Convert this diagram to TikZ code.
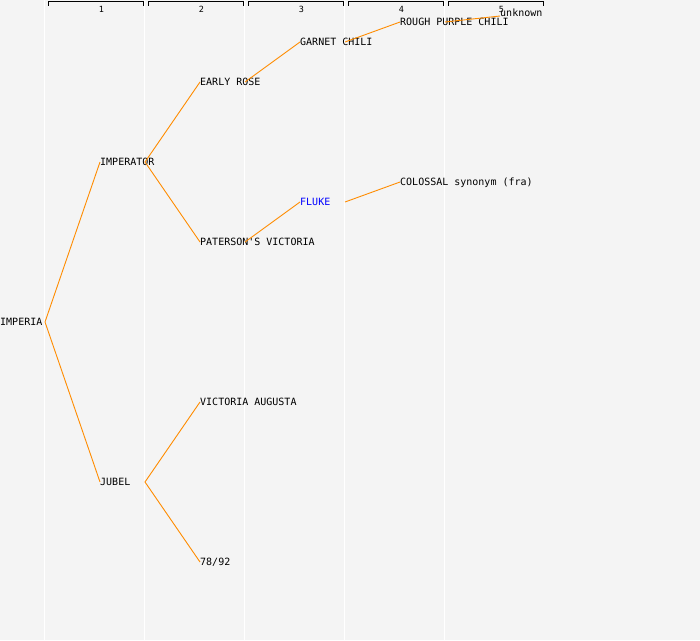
\documentclass[tikz,border=0pt]{standalone}
\usepackage{fontspec}
\setmonofont{DejaVu Sans Mono}
\usetikzlibrary{positioning}
\definecolor{pagegray}{RGB}{244,244,244}
\definecolor{branch}{RGB}{255,140,0}
\definecolor{flukeblue}{RGB}{0,0,255}
\tikzset{cultivar/.style = {anchor=west, inner sep=0pt, text height=6.5pt, text depth=0pt,
                            font=\ttfamily\fontsize{10}{10}\selectfont},
         link/.style = {branch, line width=0.9pt},
         colnum/.style = {inner sep=0pt, font=\ttfamily\fontsize{8.5}{8.5}\selectfont}}

\begin{document}
\begin{tikzpicture}[x=1pt, y=-1pt]
      \fill [pagegray] (0, 0) rectangle (700, 640);
      \useasboundingbox (0, 0) rectangle (700, 640);
      \foreach \k in {0,...,4}
        \draw [white, line width=1.5pt] (44.5 + 100 * \k, 0) -- (44.5 + 100 * \k, 640);
      \foreach \k in {1,...,5} {
        \draw [black, line width=0.8pt] (100 * \k - 52, 5.5) -- (100 * \k - 52, 1.5) -- (100 * \k + 43, 1.5) -- (100 * \k + 43, 5.5);
        \node [colnum] (num\k) at (100 * \k + 1.5, 9.5) {\k};
      }
      \node [cultivar] (imperia) at (0, 322) {IMPERIA};
      \node [cultivar] (imperator) at (100, 162) {IMPERATOR};
      \node [cultivar] (jubel) at (100, 482) {JUBEL};
      \node [cultivar] (earlyrose) at (200, 82) {EARLY ROSE};
      \node [cultivar] (paterson) at (200, 242) {PATERSON'S VICTORIA};
      \node [cultivar] (augusta) at (200, 402) {VICTORIA AUGUSTA};
      \node [cultivar] (sevenight) at (200, 562) {78/92};
      \node [cultivar] (garnet) at (300, 42) {GARNET CHILI};
      \node [cultivar, text=flukeblue] (fluke) at (300, 202) {FLUKE};
      \node [cultivar] (roughpurple) at (400, 22) {ROUGH PURPLE CHILI};
      \node [cultivar] (colossal) at (400, 182) {COLOSSAL synonym (fra)};
      \node [cultivar] (unknown) at (500, 13) {unknown};
      \draw [link] (imperator.west) -- ([xshift=45pt]imperia.west) -- (jubel.west);
      \draw [link] (earlyrose.west) -- ([xshift=45pt]imperator.west) -- (paterson.west);
      \draw [link] (augusta.west) -- ([xshift=45pt]jubel.west) -- (sevenight.west);
      \draw [link] ([xshift=45pt]earlyrose.west) -- (garnet.west);
      \draw [link] ([xshift=45pt]paterson.west) -- (fluke.west);
      \draw [link] ([xshift=45pt]garnet.west) -- (roughpurple.west);
      \draw [link] ([xshift=45pt]fluke.west) -- (colossal.west);
      \draw [link] ([xshift=45pt]roughpurple.west) -- ([yshift=-3pt]unknown.west);
    \end{tikzpicture}
\end{document}
